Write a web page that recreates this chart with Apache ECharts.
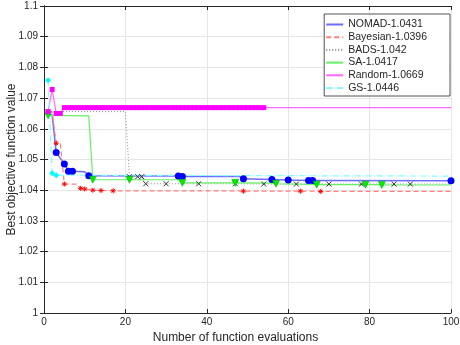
<!DOCTYPE html>
<html>
<head>
<meta charset="utf-8">
<script src="https://cdn.jsdelivr.net/npm/echarts@6/dist/echarts.min.js"></script>
<style>
  html, body { margin: 0; padding: 0; background: #fff; }
  #chart { width: 460px; height: 345px; }
</style>
</head>
<body>
<div id="chart"></div>
<script>
const seriesNames = ["NOMAD-1.0431", "Bayesian-1.0396", "BADS-1.042", "SA-1.0417", "Random-1.0669", "GS-1.0446"];

const nomadX = [1, 2, 3, 5, 6, 7, 10, 11, 33, 34, 48, 49, 56, 60, 65, 66, 100];
const nomadY = [1.0648, 1.0645, 1.0523, 1.0485, 1.0462, 1.0462, 1.046, 1.0447, 1.0446, 1.0445, 1.0445, 1.0437, 1.0435, 1.0433, 1.0432, 1.0432, 1.0431];
const nomadMarks = [3, 5, 6, 7, 11, 33, 34, 49, 56, 60, 65, 66, 100];

const bayesX = [1, 2, 3, 4, 5, 8, 9, 10, 12, 14, 17, 48, 49, 63, 67, 68, 100];
const bayesY = [1.0655, 1.0655, 1.0553, 1.0553, 1.042, 1.042, 1.0406, 1.0404, 1.04, 1.0399, 1.0398, 1.0398, 1.0397, 1.0397, 1.0397, 1.0396, 1.0396];
const bayesMarks = [1, 3, 5, 9, 10, 12, 14, 17, 49, 63, 68];

const badsX = [1, 2, 3, 20, 21, 23, 24, 25, 30, 38, 47, 54, 62, 70, 78, 86, 90, 100];
const badsY = [1.0655, 1.0656, 1.0656, 1.0656, 1.0444, 1.0444, 1.0444, 1.0421, 1.0421, 1.0421, 1.0421, 1.042, 1.042, 1.042, 1.042, 1.042, 1.042, 1.042];
const badsMarks = [1, 21, 23, 24, 25, 30, 38, 47, 54, 62, 70, 78, 86, 90];

const saX = [1, 11, 12, 21, 33, 34, 47, 56, 57, 66, 67, 78, 79, 82, 83, 100];
const saY = [1.0644, 1.0642, 1.0434, 1.0434, 1.0434, 1.0424, 1.0424, 1.0423, 1.0421, 1.0419, 1.0418, 1.0418, 1.0418, 1.0418, 1.0417, 1.0417];
const saMarks = [1, 12, 21, 34, 47, 57, 67, 79, 83];

const randomX = [1, 2, 3, 4, 5, 6, 7, 8, 9, 10, 11, 12, 13, 14, 15, 16, 17, 18, 19, 20,
  21, 22, 23, 24, 25, 26, 27, 28, 29, 30, 31, 32, 33, 34, 35, 36, 37, 38, 39, 40,
  41, 42, 43, 44, 45, 46, 47, 48, 49, 50, 51, 52, 53, 54, 100];
const randomY = [1.0656, 1.0728, 1.065, 1.065,
  1.0669, 1.0669, 1.0669, 1.0669, 1.0669, 1.0669, 1.0669, 1.0669, 1.0669, 1.0669,
  1.0669, 1.0669, 1.0669, 1.0669, 1.0669, 1.0669, 1.0669, 1.0669, 1.0669, 1.0669,
  1.0669, 1.0669, 1.0669, 1.0669, 1.0669, 1.0669, 1.0669, 1.0669, 1.0669, 1.0669,
  1.0669, 1.0669, 1.0669, 1.0669, 1.0669, 1.0669, 1.0669, 1.0669, 1.0669, 1.0669,
  1.0669, 1.0669, 1.0669, 1.0669, 1.0669, 1.0669, 1.0669, 1.0669, 1.0669, 1.0669,
  1.0669];
const randomMarks = randomX.filter((x) => x <= 54);

const gsX = [1, 2, 3, 100];
const gsY = [1.0758, 1.0455, 1.0449, 1.0446];
const gsMarks = [1, 2, 3];

const xTicks = [0, 20, 40, 60, 80, 100];

const font = "Liberation Sans";
const ink = "#262626";

// points without a marker get symbol none
function toData(xs, ys, marks) {
  return xs.map((x, i) =>
    marks.includes(x) ? [x, ys[i]] : { value: [x, ys[i]], symbol: "none" }
  );
}

const asterisk = "path://M5,0L5,10M0,5L10,5M1.5,1.5L8.5,8.5M8.5,1.5L1.5,8.5";
const cross = "path://M0,0L10,10M10,0L0,10";

const myChart = echarts.init(document.getElementById("chart"));

var option = {
  animation: false,
  textStyle: { fontFamily: font },
  grid: { left: 44, right: 9, top: 6, bottom: 32, show: false, outerBoundsMode: "none", containLabel: false },
  legend: {
    orient: "vertical",
    right: 10,
    top: 14,
    itemWidth: 17,
    itemHeight: 10,
    itemGap: 0.7,
    padding: [4.5, 23, 2, 1],
    backgroundColor: "#fff",
    borderColor: ink,
    borderWidth: 0.8,
    borderRadius: 0,
    itemStyle: { opacity: 0 },
    textStyle: { fontSize: 10.5, lineHeight: 12, color: ink, fontFamily: font },
    data: seriesNames,
  },
  xAxis: [
    {
      type: "value",
      min: xTicks[0],
      max: xTicks[xTicks.length - 1],
      interval: 20,
      name: "Number of function evaluations",
      nameLocation: "middle",
      nameGap: 15,
      nameTextStyle: { fontSize: 12, color: ink, fontFamily: font, padding: [0, 24, 0, 0] },
      axisLine: { show: true, lineStyle: { color: ink, width: 1 } },
      axisTick: { show: true, inside: true, length: 4, lineStyle: { color: ink } },
      axisLabel: { fontSize: 10, color: ink, margin: 4, fontFamily: font },
      splitLine: { show: true, lineStyle: { color: "#e6e6e6", width: 1 } },
    },
    {
      type: "value",
      position: "top",
      min: xTicks[0],
      max: xTicks[xTicks.length - 1],
      interval: 20,
      axisLine: { show: true, lineStyle: { color: ink, width: 1 } },
      axisTick: { show: true, inside: true, length: 4, lineStyle: { color: ink } },
      axisLabel: { show: false },
      splitLine: { show: false },
    },
  ],
  yAxis: [
    {
      type: "value",
      min: 1,
      max: 1.1,
      interval: 0.01,
      name: "Best objective function value",
      nameLocation: "middle",
      nameGap: 26,
      nameMoveOverlap: false,
      nameTextStyle: { fontSize: 12, color: ink, fontFamily: font },
      axisLine: { show: true, lineStyle: { color: ink, width: 1 } },
      axisTick: { show: true, inside: true, length: 4, lineStyle: { color: ink } },
      axisLabel: { fontSize: 10, color: ink, margin: 6, fontFamily: font },
      splitLine: { show: true, lineStyle: { color: "#e6e6e6", width: 1 } },
    },
    {
      type: "value",
      position: "right",
      min: 1,
      max: 1.1,
      interval: 0.01,
      axisLine: { show: true, lineStyle: { color: ink, width: 1 } },
      axisTick: { show: true, inside: true, length: 4, lineStyle: { color: ink } },
      axisLabel: { show: false },
      splitLine: { show: false },
    },
  ],
  series: [
    {
      name: seriesNames[0],
      type: "line",
      data: toData(nomadX, nomadY, nomadMarks),
      symbol: "circle",
      symbolSize: 7,
      showAllSymbol: true,
      lineStyle: { color: "#6b6bff", width: 1.5 },
      itemStyle: { color: "#0000ff", borderWidth: 0 },
    },
    {
      name: seriesNames[1],
      type: "line",
      data: toData(bayesX, bayesY, bayesMarks),
      symbol: asterisk,
      symbolSize: 5,
      showAllSymbol: true,
      lineStyle: { color: "#ff7f7f", width: 1.2, type: [5, 3] },
      itemStyle: { color: "#ff0000", borderColor: "#ff0000", borderWidth: 1 },
    },
    {
      name: seriesNames[2],
      type: "line",
      data: toData(badsX, badsY, badsMarks),
      symbol: cross,
      symbolSize: 5,
      showAllSymbol: true,
      lineStyle: { color: "#8c8c8c", width: 1, type: [1, 2] },
      itemStyle: { color: "#333", borderColor: "#333", borderWidth: 1 },
    },
    {
      name: seriesNames[3],
      type: "line",
      data: toData(saX, saY, saMarks),
      symbol: "triangle",
      symbolRotate: 180,
      symbolSize: 7,
      showAllSymbol: true,
      lineStyle: { color: "#66f066", width: 1.2 },
      itemStyle: { color: "#00ee00", borderColor: "#00a000", borderWidth: 0.5 },
    },
    {
      name: seriesNames[4],
      type: "line",
      data: toData(randomX, randomY, randomMarks),
      symbol: "rect",
      symbolSize: 5,
      showAllSymbol: true,
      lineStyle: { color: "#ff66ff", width: 1.2 },
      itemStyle: { color: "#ff00ff", borderWidth: 0 },
    },
    {
      name: seriesNames[5],
      type: "line",
      data: toData(gsX, gsY, gsMarks),
      symbol: "diamond",
      symbolSize: 6,
      showAllSymbol: true,
      lineStyle: { color: "#80ffff", width: 1.2, type: [6, 2, 1, 2] },
      itemStyle: { color: "#00ffff", borderWidth: 0 },
    },
  ],
};

myChart.setOption(option);
</script>
</body>
</html>
